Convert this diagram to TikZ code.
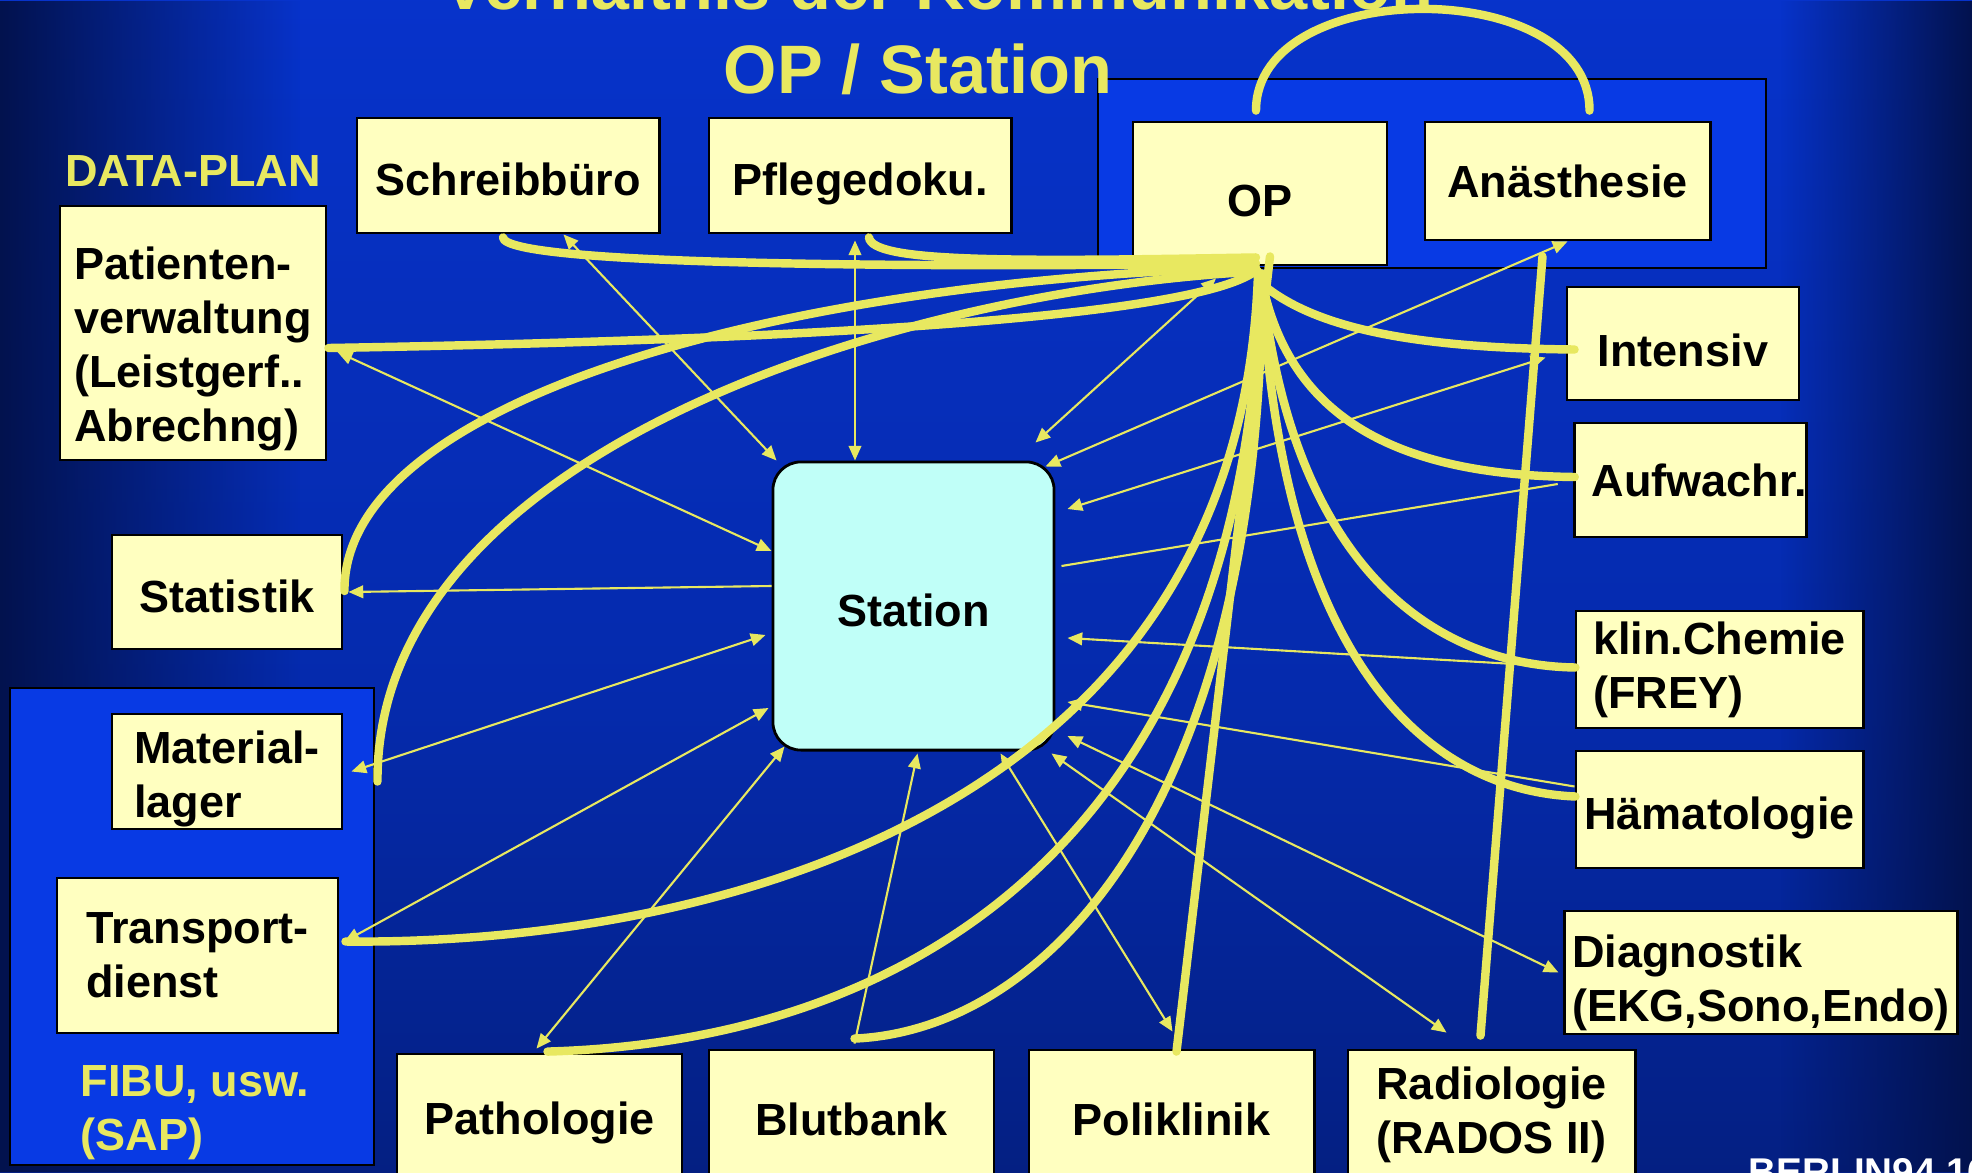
\documentclass[tikz,border=0pt]{standalone}
\usepackage{fontspec}
\setmainfont{Liberation Sans}
\usetikzlibrary{arrows.meta,calc,fadings}

\definecolor{bgtop}{RGB}{8,58,228}
\definecolor{bgmid}{RGB}{5,42,172}
\definecolor{bgbot}{RGB}{2,18,78}
\definecolor{panelblue}{RGB}{8,58,228}
\definecolor{boxyellow}{RGB}{255,255,192}
\definecolor{stationcyan}{RGB}{192,255,248}
\definecolor{lineyellow}{RGB}{232,232,96}

\pgfdeclareverticalshading{bgshade}{100bp}{color(0bp)=(bgbot); color(45bp)=(bgmid); color(100bp)=(bgtop)}
\tikzfading[name=fadetoright, left color=transparent!0, right color=transparent!100]
\tikzfading[name=fadetoleft, left color=transparent!100, right color=transparent!0]

\begin{document}
\begin{tikzpicture}[x=0.01cm, y=-0.01cm,
	box/.style={draw=black, line width=0.8pt, fill=boxyellow, inner sep=0pt, align=center,
		text height=11.4pt, text depth=0pt, font=\fontsize{12.8}{15.3}\selectfont\bfseries},
	multibox/.style={box, align=left, text height=, text depth=},
	label/.style={inner sep=0pt, text=lineyellow, font=\fontsize{12.8}{15.3}\selectfont\bfseries},
	headline/.style={inner sep=0pt, text=lineyellow, font=\fontsize{19.5}{23}\selectfont\bfseries},
	link/.style={draw=lineyellow, line width=0.6pt},
	flow/.style={draw=lineyellow, line width=2.4pt, line cap=round},
	>={Triangle[length=4.2pt,width=3.6pt]}]
					\useasboundingbox (0,0) rectangle (1972,1172);
					\clip (0,0) rectangle (1972,1172);
%					% Background
					\shade[shading=bgshade] (0,0) rectangle (1972,1172);
					\fill[bgbot, path fading=fadetoright] (0,0) rectangle (300,1172);
					\fill[bgbot, path fading=fadetoleft] (1780,0) rectangle (1972,1172);
					\filldraw[fill=panelblue, line width=0.7pt] (1098,79) rectangle (1766,268);
					\filldraw[fill=panelblue, line width=0.7pt] (10,688) rectangle (374,1165);
%					
%					% Titles
					\node[headline, anchor=base] (titletop) at (938,9) {Verhältnis der Kommunikation};
					\node[headline, anchor=base] (title) at (918,93) {OP / Station};
					\node[label, anchor=base] (dataplan) at (193,186) {DATA-PLAN};
					\node[label, anchor=north west, align=left] (fibu) at (80,1065) {FIBU, usw.\\(SAP)};
					\node[inner sep=0pt, anchor=base west, text=white, font=\fontsize{11}{13}\selectfont\bfseries] (slide) at (1748,1185) {BERLIN94 16};
%					
%					% Boxes
					\node[box, minimum width=3.02cm, minimum height=1.15cm] (schreib) at (508,175.5) {Schreibbüro};
					\node[box, minimum width=3.02cm, minimum height=1.15cm] (pflege) at (860,175.5) {Pflegedoku.};
					\node[box, minimum width=2.54cm, minimum height=1.43cm, text height=13pt] (op) at (1260,193.5) {OP};
					\node[box, minimum width=2.85cm, minimum height=1.18cm, text height=9.5pt] (anaes) at (1567.5,181) {Anästhesie};
					\node[multibox, minimum width=2.66cm, minimum height=2.54cm] (patient) at (193,333) {\rule{0pt}{18.3pt}Patienten-\\verwaltung\\(Leistgerf..\\Abrechng)};
					\node[box, minimum width=2.30cm, minimum height=1.14cm] (statistik) at (227,592) {Statistik};
					\node[multibox, minimum width=2.30cm, minimum height=1.15cm] (material) at (227,771.5) {\rule{0pt}{13.5pt}Material-\\lager};
					\node[multibox, minimum width=2.81cm, minimum height=1.55cm] (transport) at (197.5,955.5) {Transport-\\dienst};
					\node[box, fill=stationcyan, rounded corners=0.28cm, minimum width=2.81cm, minimum height=2.88cm] (station) at (913.5,606) {Station};
					\node[box, minimum width=2.32cm, minimum height=1.13cm, text height=13pt] (intensiv) at (1683,343.5) {Intensiv};
					\node[box, minimum width=2.31cm, minimum height=1.14cm, text height=9.5pt] (aufwach) at (1690.5,480) {\hspace*{5pt}Aufwachr.};
					\node[multibox, minimum width=2.87cm, minimum height=1.17cm] (chemie) at (1719.5,669.5) {klin.Chemie\\(FREY)};
					\node[box, minimum width=2.87cm, minimum height=1.17cm] (haemato) at (1719.5,809.5) {Hämatologie};
					\node[multibox, minimum width=3.92cm, minimum height=1.23cm] (diagnos) at (1761,972.5) {\rule{0pt}{15pt}Diagnostik\\(EKG,Sono,Endo)};
					\node[box, minimum width=2.85cm, minimum height=1.20cm] (patho) at (539.5,1114) {Pathologie};
					\node[box, minimum width=2.85cm, minimum height=1.30cm] (blut) at (851.5,1115) {Blutbank};
					\node[box, minimum width=2.85cm, minimum height=1.30cm] (poli) at (1171.5,1115) {Poliklinik};
					\node[multibox, align=center, minimum width=2.87cm, minimum height=1.30cm] (radio) at (1491.5,1115) {Radiologie\\(RADOS II)};
%					
%					% Thin arrows to the Station
					\draw[link, <->] (schreib) -- (station);
					\draw[link, <->] ($(pflege.south)+(-5,6)$) -- ($(pflege.south |- station.north)+(-5,0)$);
					\draw[link, <->] ($(patient.east)+(10,19)$) -- ($(station.west)+(0,-55)$);
					\draw[link, ->] ($(station.west)+(0,-20)$) -- ($(statistik.east)+(5,0)$);
					\draw[link, <->] ($(material.east)+(8,0)$) -- ($(station.west)+(-6,29)$);
					\draw[link, <->] ($(transport.east)+(5,-14)$) -- ($(station.west)+(-3,102)$);
					\draw[link, <->] ($(patho.north)+(-3,-4)$) -- ($(station.south west)+(13,-5)$);
					\draw[link, ->] ($(blut.north)+(3,-5)$) -- ($(station.south)+(4,2)$);
					\draw[link, <->] ($(station.south)+(87,2)$) -- ($(poli.north)+(1,-17)$);
					\draw[link, <->] ($(station.south east)+(-4,2)$) -- ($(radio.north)+(-45,-16)$);
					\draw[link, <->] ($(station.east)+(12,130)$) -- ($(diagnos.west)+(-5,0)$);
					\draw[link, ->] ($(haemato.west)+(0,-23)$) -- ($(station.east)+(12,96)$);
					\draw[link, ->] ($(chemie.west)+(0,-2)$) -- ($(station.east)+(12,32)$);
					\draw[link] ($(station.east)+(6,-40)$) -- ($(aufwach.west)+(-15,4)$);
					\draw[link, <->] ($(intensiv.west)+(-20,14)$) -- ($(station.east)+(12,-97)$);
					\draw[link, <->] (anaes.south) -- ($(station.north east)+(-10,6)$);
					\draw[link, <->] ($(op.south)+(-44,12)$) -- ($(station.north east)+(-20,-18)$);
%					
%					% Thick lines from the OP
					\coordinate (hub) at ($(op.south)+(-2,5)$);
					\draw[flow] ($(schreib.south)+(-5,3)$) .. controls (505,265) and (900,268) .. ($(hub)+(-2,-8)$);
					\draw[flow] ($(pflege.south)+(9,3)$) .. controls (872,262) and (1000,262) .. ($(hub)+(-2,-14)$);
					\draw[flow] ($(patient.east)+(1,15)$) .. controls (800,340) and (1180,318) .. ($(hub)+(-6,2)$);
					\draw[flow] ($(statistik.east)+(1,-1)$) .. controls (343,400) and (780,280) .. ($(hub)+(-2,-4)$);
					\draw[flow] ($(material.east)+(34,10)$) .. controls (376,450) and (900,290) .. (hub);
					\draw[flow] ($(transport.east)+(6,-14)$) .. controls (700,945) and (1240,820) .. ($(hub)+(0,2)$);
					\draw[flow] ($(patho.north)+(8,-1)$) .. controls (950,1040) and (1250,800) .. ($(hub)+(2,2)$);
					\draw[flow] ($(blut.north)+(3,-10)$) .. controls (1050,1030) and (1262,800) .. ($(hub)+(4,2)$);
					\draw[flow] ($(poli.north)+(5,3)$) -- ($(op.south)+(10,-10)$);
					\draw[flow] ($(radio.north)+(-11,-13)$) -- ($(anaes.south)+(-25,15)$);
					\draw[flow] ($(hub)+(7,15)$) .. controls (1320,330) and (1420,348) .. ($(intensiv.west)+(9,6)$);
					\draw[flow] ($(hub)+(4,10)$) .. controls (1290,420) and (1400,475) .. ($(aufwach.west)+(2,-3)$);
					\draw[flow] ($(hub)+(4,10)$) .. controls (1290,550) and (1420,665) .. ($(chemie.west)+(1,-2)$);
					\draw[flow] ($(hub)+(4,10)$) .. controls (1280,650) and (1420,790) .. ($(haemato.west)+(1,-13)$);
					\draw[flow] ($(op.north)+(-4,-10)$) .. controls (1256,-25) and (1590,-25) .. ($(anaes.north)+(22,-10)$);
\end{tikzpicture}
\end{document}
